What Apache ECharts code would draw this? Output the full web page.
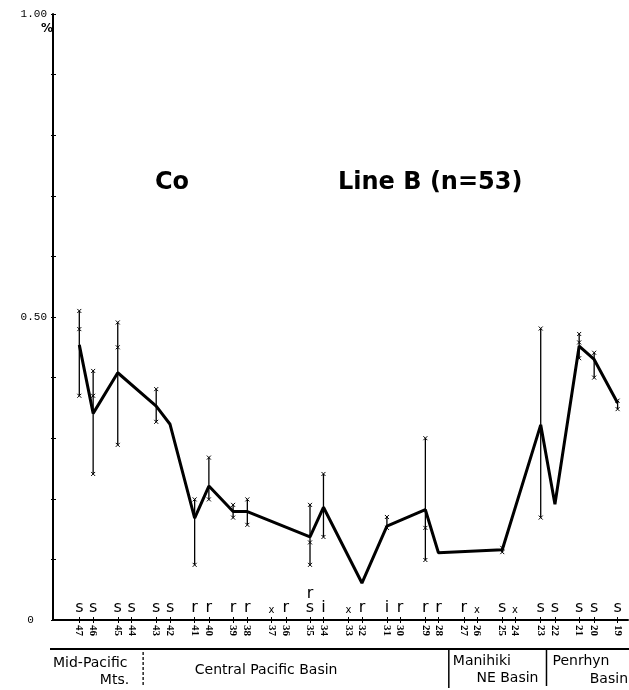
<!DOCTYPE html>
<html>
<head>
<meta charset="utf-8">
<script src="https://cdn.jsdelivr.net/npm/echarts@6/dist/echarts.min.js"></script>
<style>
  html, body { margin: 0; padding: 0; background: #fff; }
  #chart { width: 629px; height: 690px; }
</style>
</head>
<body>
<div id="chart"></div>
<script>
// Stations along Line B, west to east
const stations = [47, 46, 45, 44, 43, 42, 41, 40, 39, 38, 37, 36, 35, 34, 33, 32, 31, 30, 29, 28, 27, 26, 25, 24, 23, 22, 21, 20, 19];
// Relative along-track spacing of the stations (stations come in close pairs)
const stationPos = [0, 0.36, 1, 1.36, 2, 2.36, 3, 3.37, 4, 4.37, 5, 5.37, 6, 6.35, 7, 7.35, 8, 8.34, 9, 9.34, 10, 10.34, 11, 11.33, 12, 12.37, 13, 13.39, 14];
// Sediment type code printed above each station
const sedimentCode = ['s', 's', 's', 's', 's', 's', 'r', 'r', 'r', 'r', 'x', 'r', 'rs', 'i', 'x', 'r', 'i', 'r', 'r', 'r', 'r', 'x', 's', 'x', 's', 's', 's', 's', 's'];
// Mean Co content (%) per station, null where not analysed
const meanCo = [0.454, 0.341, 0.408, null, 0.353, 0.323, 0.168, 0.221, 0.179, 0.179, null, null, 0.137, 0.186, null, 0.061, 0.155, null, 0.182, 0.111, null, null, 0.116, null, 0.322, 0.191, 0.452, 0.430, 0.358];
// Range of individual samples
const rangeHigh = [0.510, 0.411, 0.491, null, 0.381, null, 0.199, 0.268, 0.190, 0.199, null, null, 0.190, 0.241, null, null, 0.170, null, 0.300, null, null, null, 0.119, null, 0.481, null, 0.472, 0.441, 0.362];
const rangeLow  = [0.370, 0.241, 0.289, null, 0.327, null, 0.091, 0.199, 0.169, 0.157, null, null, 0.091, 0.137, null, null, 0.152, null, 0.099, null, null, null, 0.112, null, 0.169, null, 0.432, 0.400, 0.348];
// Further individual samples inside the range [station, value]
const extraSamples = [[47, 0.48], [46, 0.37], [45, 0.45], [35, 0.128], [29, 0.152], [21, 0.458]];
// Physiographic provinces crossed by the line, boundaries in along-track units
const provinceBounds = [1.66, 9.61, 12.15];
const yLabelText = { '0': '0  ', '0.5': '0.50', '1': '1.00' };

const posOf = st => stationPos[stations.indexOf(st)];

const meanData = [];
stations.forEach((s, i) => { if (meanCo[i] != null) meanData.push([stationPos[i], meanCo[i]]); });
const rangeData = [];
stations.forEach((s, i) => { if (rangeHigh[i] != null) rangeData.push([stationPos[i], rangeLow[i], rangeHigh[i]]); });
const extraData = extraSamples.map(d => [posOf(d[0]), d[1]]);
const codeData = stations.map((s, i) => [stationPos[i], 0, sedimentCode[i]]);

function cross(p, h) {
  return {
    type: 'path',
    shape: { pathData: `M${p[0] - h} ${p[1] - h}L${p[0] + h} ${p[1] + h}M${p[0] + h} ${p[1] - h}L${p[0] - h} ${p[1] + h}` },
    style: { stroke: '#000', lineWidth: 1, fill: null }
  };
}

const chart = echarts.init(document.getElementById('chart'), null, { renderer: 'canvas' });

const option = {
  animation: false,
  backgroundColor: '#fff',
  grid: { left: 53, right: 1, top: 14, bottom: 70, containLabel: false },
  xAxis: [{
    type: 'value', min: -0.684, max: 14.27,
    axisLine: { show: true, onZero: false, lineStyle: { color: '#000', width: 2 } },
    splitLine: { show: false },
    axisTick: { show: true, customValues: stationPos, length: 3, lineStyle: { color: '#000', width: 1 } },
    axisLabel: {
      customValues: stationPos, rotate: -90, margin: 5,
      fontFamily: 'Liberation Serif', fontSize: 11, fontWeight: 'bold', color: '#000',
      formatter: v => {
        const i = stationPos.findIndex(p => Math.abs(p - v) < 1e-6);
        return i >= 0 ? String(stations[i]) : '';
      }
    }
  }, {
    type: 'value', min: -0.684, max: 14.27, position: 'bottom',
    axisLine: { show: false, onZero: false }, splitLine: { show: false }, axisLabel: { show: false },
    axisTick: { show: true, inside: true, customValues: stationPos, length: 3, lineStyle: { color: '#000', width: 1 } }
  }],
  yAxis: [{
    type: 'value', min: 0, max: 1, interval: 0.1,
    axisLine: { show: true, onZero: false, lineStyle: { color: '#000', width: 2 } },
    splitLine: { show: false },
    axisTick: { show: true, length: 2, lineStyle: { color: '#000', width: 1 } },
    axisLabel: {
      margin: 6, fontFamily: 'Liberation Mono', fontSize: 11, color: '#000',
      formatter: v => yLabelText[String(Math.round(v * 10) / 10)] || ''
    }
  }, {
    type: 'value', min: 0, max: 1, interval: 0.1, position: 'left',
    axisLine: { show: false, onZero: false }, splitLine: { show: false }, axisLabel: { show: false },
    axisTick: { show: true, inside: true, length: 3, lineStyle: { color: '#000', width: 1 } }
  }],
  series: [
    {
      name: 'range', type: 'custom', data: rangeData, encode: { x: 0, y: [1, 2] },
      renderItem: (params, api) => {
        const x = api.value(0);
        const lo = api.coord([x, api.value(1)]);
        const hi = api.coord([x, api.value(2)]);
        return {
          type: 'group',
          children: [
            { type: 'line', shape: { x1: lo[0], y1: lo[1], x2: hi[0], y2: hi[1] }, style: { stroke: '#000', lineWidth: 1.3 } },
            cross(hi, 2), cross(lo, 2)
          ]
        };
      },
      z: 2
    },
    {
      name: 'samples', type: 'custom', data: extraData, encode: { x: 0, y: 1 },
      renderItem: (params, api) => cross(api.coord([api.value(0), api.value(1)]), 2),
      z: 2
    },
    {
      name: 'Co', type: 'line', data: meanData, connectNulls: true,
      symbol: 'none', lineStyle: { color: '#000', width: 3 }, z: 3
    },
    {
      name: 'code', type: 'custom', data: codeData, encode: { x: 0, y: 1 },
      renderItem: (params, api) => {
        const p = api.coord([api.value(0), 0]);
        const code = sedimentCode[params.dataIndex];
        const txt = (t, dy, size) => ({
          type: 'text',
          style: { text: t, x: p[0], y: p[1] + dy, align: 'center', verticalAlign: 'middle',
                   fontFamily: 'DejaVu Sans', fontSize: size, fill: '#000' }
        });
        if (code === 'x') return txt('x', -10, 10);
        if (code === 'rs') return { type: 'group', children: [txt('s', -12.5, 16), txt('r', -26, 16)] };
        return txt(code, -12.5, 16);
      },
      z: 4
    }
  ]
};

chart.setOption(option);

// Province strip below the axis
const px = v => chart.convertToPixel({ xAxisIndex: 0 }, v);
const regFont = { fontFamily: 'DejaVu Sans', fontSize: 14, fill: '#000' };
const b = provinceBounds.map(px);
const label = (t, x, y, align) => ({ type: 'text', style: Object.assign({ text: t, x, y, align, verticalAlign: 'middle' }, regFont) });

chart.setOption({
  graphic: [
    { type: 'text', style: { text: '%', x: 47, y: 29, align: 'center', verticalAlign: 'middle', fontFamily: 'DejaVu Sans', fontWeight: 'bold', fontSize: 12, fill: '#000' } },
    { type: 'text', style: { text: 'Co', x: 155, y: 182.5, verticalAlign: 'middle', fontFamily: 'DejaVu Sans', fontWeight: 'bold', fontSize: 24, fill: '#000' } },
    { type: 'text', style: { text: 'Line B (n=53)', x: 338, y: 182.5, verticalAlign: 'middle', fontFamily: 'DejaVu Sans', fontWeight: 'bold', fontSize: 24, fill: '#000' } },
    { type: 'line', shape: { x1: 50, y1: 649, x2: 629, y2: 649 }, style: { stroke: '#000', lineWidth: 2 } },
    { type: 'line', shape: { x1: b[0], y1: 652, x2: b[0], y2: 686 }, style: { stroke: '#000', lineWidth: 1.3, lineDash: [3, 2] } },
    { type: 'line', shape: { x1: b[1], y1: 650, x2: b[1], y2: 688 }, style: { stroke: '#000', lineWidth: 1.5 } },
    { type: 'line', shape: { x1: b[2], y1: 650, x2: b[2], y2: 686 }, style: { stroke: '#000', lineWidth: 1.5 } },
    label('Mid-Pacific', 53, 663, 'left'),
    label('Mts.', b[0] - 14, 680, 'right'),
    label('Central Pacific Basin', b[0] + 123, 670, 'center'),
    label('Manihiki', b[1] + 4, 661, 'left'),
    label('NE Basin', b[2] - 8, 678, 'right'),
    label('Penrhyn', b[2] + 6, 661, 'left'),
    label('Basin', 628, 679, 'right')
  ]
});
</script>
</body>
</html>
